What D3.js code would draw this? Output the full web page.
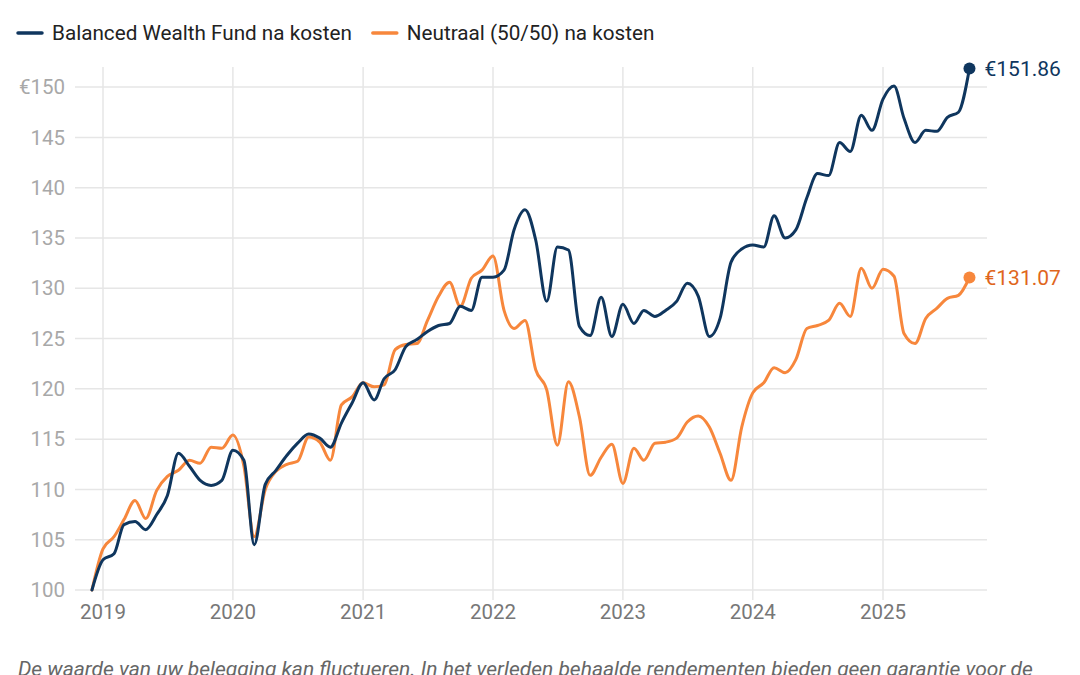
<!DOCTYPE html>
<html><head><meta charset="utf-8">
<script src="https://cdn.jsdelivr.net/npm/d3@7"></script>
<style>
html,body{margin:0;padding:0;background:#fff;}
svg{display:block;font-family:Roboto,"Noto Sans",sans-serif;}
</style></head>
<body>
<svg id="chart" width="1080" height="675"></svg>
<script>
const seriesNames = ["Balanced Wealth Fund na kosten", "Neutraal (50/50) na kosten"];
const startMonth = "2018-12";
const fundValues = [100,
 103.0,103.6,106.5,106.8,106.0,107.5,109.4,113.6,112.3,110.9,110.4,110.9,
 113.9,112.9,104.5,110.5,111.9,113.4,114.6,115.5,115.1,114.2,116.6,118.6,
 120.6,118.9,121.0,121.9,124.2,124.9,125.7,126.3,126.5,128.2,127.8,131.1,
 131.1,131.8,135.8,137.8,134.8,128.7,134.1,133.8,126.2,125.3,129.1,125.2,
 128.4,126.5,127.8,127.2,127.8,128.7,130.5,129.2,125.2,127.0,132.6,133.9,
 134.3,134.1,137.2,135.0,135.8,139.0,141.4,141.2,144.5,143.6,147.2,145.7,
 148.8,150.1,146.9,144.5,145.7,145.6,147.0,147.5,151.86];
const neutralValues = [100,
 104.1,105.3,107.0,108.9,107.1,109.9,111.3,111.9,112.9,112.6,114.2,114.1,
 115.4,112.3,105.3,110.0,111.8,112.5,112.8,115.2,114.7,112.9,118.4,119.2,
 120.6,120.2,120.4,123.9,124.4,124.5,126.8,129.2,130.6,128.2,131.0,131.8,
 133.2,127.8,126.0,126.8,121.9,119.9,114.4,120.7,117.2,111.4,113.2,114.5,
 110.6,114.1,112.9,114.6,114.7,115.1,116.7,117.3,116.2,113.6,110.9,116.2,
 119.6,120.6,122.1,121.6,122.9,126.0,126.3,126.8,128.5,127.2,132.0,130.0,
 131.9,131.2,125.5,124.5,127.0,128.0,129.0,129.3,131.07];
const endLabels = ["€151.86", "€131.07"];
const yTicks = [100,105,110,115,120,125,130,135,140,145,150];
const xTickYears = [2019,2020,2021,2022,2023,2024,2025];
const footnote = "De waarde van uw belegging kan fluctueren. In het verleden behaalde rendementen bieden geen garantie voor de";

const lineColors = ["#0f365e", "#f7873c"];
const labelColors = ["#0f365e", "#e0661c"];
const FS = 20.5;

const svg = d3.select("#chart");
const parseM = d3.timeParse("%Y-%m");
const d0 = parseM(startMonth);
const dates = fundValues.map((_, i) => d3.timeMonth.offset(d0, i));

const x = d3.scaleTime()
  .domain([new Date(2019,0,1), new Date(2025,0,1)])
  .range([103, 883]);
const y = d3.scaleLinear().domain([100, 152]).range([590, 67]);

const plotLeft = 75, plotRight = 987;

svg.append("g").selectAll("line").data(yTicks).join("line")
  .attr("x1", plotLeft).attr("x2", plotRight)
  .attr("y1", d => y(d)).attr("y2", d => y(d))
  .attr("stroke", "#e6e6e6").attr("stroke-width", 1.5);

const yearDates = xTickYears.map(yr => new Date(yr,0,1));
svg.append("g").selectAll("line").data(yearDates).join("line")
  .attr("x1", d => x(d)).attr("x2", d => x(d))
  .attr("y1", 67).attr("y2", 600)
  .attr("stroke", "#e6e6e6").attr("stroke-width", 1.5);

svg.append("g").selectAll("text").data(yTicks).join("text")
  .attr("x", 65).attr("y", d => y(d)).attr("dy", "0.35em")
  .attr("text-anchor", "end").attr("font-size", FS).attr("fill", "#a8a8a8")
  .text(d => d === 150 ? "€" + d : d);

svg.append("g").selectAll("text").data(yearDates).join("text")
  .attr("x", d => x(d)).attr("y", 612).attr("dy", "0.35em")
  .attr("text-anchor", "middle").attr("font-size", FS).attr("fill", "#777")
  .text(d => d3.timeFormat("%Y")(d));

const line = d3.line().x(d => x(d[0])).y(d => y(d[1])).curve(d3.curveMonotoneX);
const all = [fundValues, neutralValues];
[1,0].forEach(i => {
  const pts = dates.map((d, j) => [d, all[i][j]]);
  svg.append("path").datum(pts).attr("d", line)
    .attr("fill", "none").attr("stroke", lineColors[i]).attr("stroke-width", 3)
    .attr("stroke-linejoin", "round").attr("stroke-linecap", "round");
  const last = pts[pts.length-1];
  svg.append("circle").attr("cx", x(last[0])).attr("cy", y(last[1])).attr("r", 6)
    .attr("fill", lineColors[i]);
  svg.append("text").attr("x", x(last[0]) + 15).attr("y", y(last[1])).attr("dy", "0.35em")
    .attr("font-size", FS + 0.5).attr("fill", labelColors[i]).text(endLabels[i]);
});

const leg = svg.append("g");
let lx = 18;
seriesNames.forEach((name, i) => {
  leg.append("line").attr("x1", lx).attr("x2", lx + 24).attr("y1", 33).attr("y2", 33)
    .attr("stroke", lineColors[i]).attr("stroke-width", 3.5).attr("stroke-linecap", "round");
  const t = leg.append("text").attr("x", lx + 34).attr("y", 33).attr("dy", "0.35em")
    .attr("font-size", 20.7).attr("fill", "#222").text(name);
  lx = lx + 34 + t.node().getComputedTextLength() + 21;
});

svg.append("text").attr("x", 18).attr("y", 676).attr("font-size", 21)
  .attr("font-style", "italic").attr("fill", "#666").text(footnote);
</script>
</body></html>
